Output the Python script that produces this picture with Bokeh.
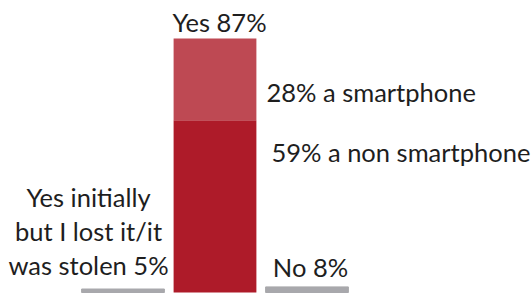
from bokeh.plotting import figure
from bokeh.models import Range1d
from bokeh.core.properties import value
from bokeh.embed import file_html
from bokeh.resources import INLINE
import numpy as np

# ---- data ----
categories = ["Yes initially\nbut I lost it/it\nwas stolen", "Yes", "No"]
totals = [5, 87, 8]
yes_parts = ["a non smartphone", "a smartphone"]
yes_values = [59, 28]

# ---- style ----
W, H = 532, 293
PX_PER_UNIT = 92.0
X0 = -1.3315
PX_PER_PCT = 2.92
Y0 = -1 / PX_PER_PCT
GRAY_PX = 0.7
GY0 = -1 / GRAY_PX
FONT = value("Lato")
FS = "25.5px"
TXT = "#1e1e1e"
DARK = "#AE1B29"
LIGHT = "#BE4953"
GRAY = "#A8A8AC"
BAR_W = 0.9

p = figure(width=W, height=H, output_backend="svg", toolbar_location=None,
           x_range=Range1d(X0, X0 + W / PX_PER_UNIT),
           y_range=Range1d(Y0, Y0 + H / PX_PER_PCT), min_border=0,
           x_axis_type=None, y_axis_type=None)
p.extra_y_ranges = {"gray": Range1d(GY0, GY0 + H / GRAY_PX)}
p.grid.visible = False
p.outline_line_color = None

yes_i = 1
other = [i for i in range(len(categories)) if i != yes_i]

# gray bars (non-yes answers)
p.vbar(x=other, top=[totals[i] for i in other], bottom=0, width=BAR_W,
       color=GRAY, y_range_name="gray")

# stacked yes bar
tops = np.cumsum(yes_values)
bottoms = tops - np.array(yes_values)
p.vbar(x=[yes_i] * len(yes_values), bottom=bottoms, top=tops, width=BAR_W,
       color=[DARK, LIGHT], line_color=None)

common = dict(text_font=FONT, text_font_size=FS, text_color=TXT)

# Yes total label
p.text(x=[yes_i], y=[totals[yes_i]], text=[f"{categories[yes_i]} {totals[yes_i]}%"],
       text_align="center", text_baseline="alphabetic", x_offset=4.5, y_offset=-16, **common)

# part labels
part_offsets = [(15, 32), (10, -28)]
for v, name, (xo, yo) in zip(yes_values, yes_parts, part_offsets):
    p.text(x=[yes_i + BAR_W / 2], y=[yes_values[0]], text=[f"{v}% {name}"],
           text_align="left", text_baseline="alphabetic", x_offset=xo, y_offset=yo, **common)

# left label (multi-line)
p.text(x=[0], y=[0], text=[f"{categories[0]} {totals[0]}%"],
       text_align="center", text_baseline="bottom", x_offset=-34.5, y_offset=-12,
       text_line_height=1.14, **common)

# No label
p.text(x=[2], y=[0], text=[f"{categories[2]} {totals[2]}%"],
       text_align="center", text_baseline="alphabetic", x_offset=3.5, y_offset=-26, **common)

open("out.html", "w").write(file_html(p, INLINE))
